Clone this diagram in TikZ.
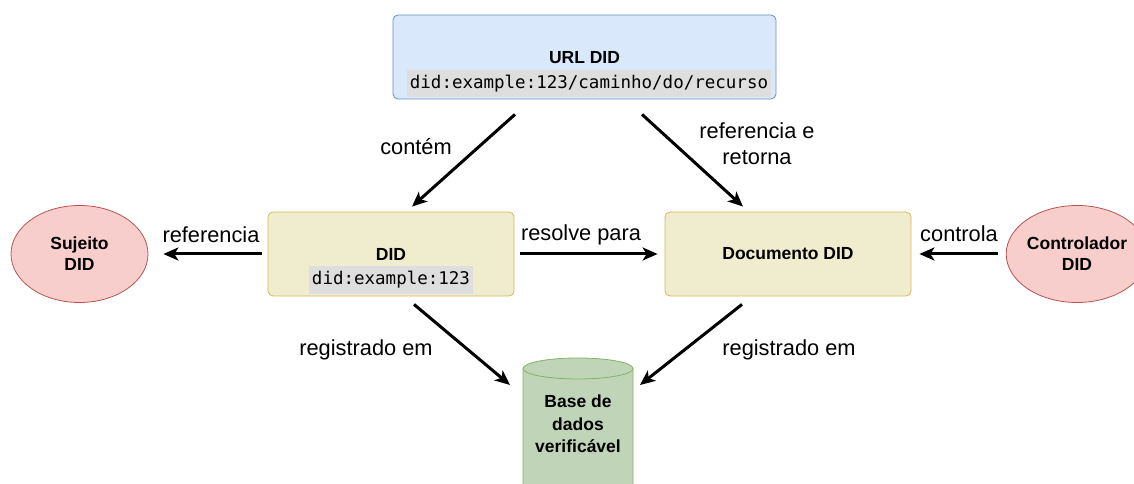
\documentclass[tikz,border=0pt]{standalone}
\usepackage{fontspec}
\setmainfont{Liberation Sans}
\newfontfamily\codefont{DejaVu Sans Mono}
\usetikzlibrary{arrows.meta,shapes.geometric,positioning,calc}
\definecolor{urlfill}{HTML}{DAE8FC}
\definecolor{urldraw}{HTML}{6C8EBF}
\definecolor{didfill}{HTML}{EFEDCD}
\definecolor{diddraw}{HTML}{D6B656}
\definecolor{subjfill}{HTML}{F8CECC}
\definecolor{subjdraw}{HTML}{B85450}
\definecolor{dbfill}{HTML}{C0D5B8}
\definecolor{dbdraw}{HTML}{82B366}
\definecolor{codefill}{HTML}{DEDEDE}

\begin{document}
\begin{tikzpicture}[
  x=1pt, y=1pt,
  box options/.style = {rounded corners=5pt,line width=0.8pt,minimum height=84pt},
  title options/.style = {font=\bfseries\fontsize{17.5}{21}\selectfont,align=center},
  code options/.style = {fill=codefill,inner xsep=3pt,inner ysep=0pt,minimum height=27pt,
    font=\codefont\fontsize{17.5}{21}\selectfont},
  entity options/.style = {ellipse,draw=subjdraw,fill=subjfill,line width=0.8pt,
    minimum width=137pt,minimum height=97pt,inner sep=0pt,title options},
  label options/.style = {font=\fontsize{21.8}{26}\selectfont,align=center},
  arrow options/.style = {line width=3pt,-{Stealth[length=15pt,width=13pt,inset=4pt]}},
  ]
  \useasboundingbox (0,0) rectangle (1134,484);

  % boxes
  \node[box options,draw=urldraw,fill=urlfill,minimum width=383pt] (url) at (584.5,427) {};
  \node[title options] (url title) at (584.5,426) {URL DID};
  \node[code options,minimum width=364pt] (url code) at (589,400.5) {did:example:123/caminho/do/recurso};
  \node[box options,draw=diddraw,fill=didfill,minimum width=246pt] (did) at (391,230) {};
  \node[title options] (did title) at (391,230) {DID};
  \node[code options,minimum height=28pt] (did code) at (391,204) {did:example:123};
  \node[box options,draw=diddraw,fill=didfill,minimum width=246pt,title options] (doc) at (788,230) {Documento DID};
  \node[entity options] (subject) at (79.5,230) {Sujeito\\DID};
  \node[entity options] (controller) at (1077,230) {Controlador\\DID};

  % cylinder
  \filldraw[draw=dbdraw,fill=dbfill,line width=0.8pt] (523,115.5) -- (523,-5)
    arc[start angle=180,end angle=360,x radius=55,y radius=10.5] -- (633,115.5)
    arc[start angle=0,end angle=180,x radius=55,y radius=10.5] -- cycle;
  \draw[draw=dbdraw,line width=0.8pt] (633,115.5)
    arc[start angle=0,end angle=-180,x radius=55,y radius=10.5];
  \node[title options,font=\bfseries\fontsize{17.5}{22.5}\selectfont] (db) at (578,60) {Base de\\dados\\verificável};

  % free ends of the slanted connectors
  \coordinate[below left=15pt and 69.5pt of url.south] (url out a);
  \coordinate[below right=15pt and 57.5pt of url.south] (url out b);
  \coordinate[above right=5pt and 21pt of did.north] (did in);
  \coordinate[above left=5pt and 45pt of doc.north] (doc in);
  \coordinate[below right=8pt and 23pt of did.south] (did out);
  \coordinate[below left=8pt and 46pt of doc.south] (doc out);
  \coordinate[above left=39pt and 68pt of db.center] (db in a);
  \coordinate[above right=39pt and 62pt of db.center] (db in b);

  % connectors
  \draw[arrow options] (url out a) -- (did in);
  \draw[arrow options] (url out b) -- (doc in);
  \draw[arrow options,shorten <=6pt,shorten >=15pt] (did.west) -- (subject.east);
  \draw[arrow options,shorten <=6pt,shorten >=7pt] (did.east) -- (doc.west);
  \draw[arrow options,shorten <=7.5pt,shorten >=8pt] (controller.west) -- (doc.east);
  \draw[arrow options] (did out) -- (db in a);
  \draw[arrow options] (doc out) -- (db in b);

  % labels
  \foreach \pos/\name/\txt in {(416,337)/contains/contém,(757,340)/returns/referencia e\\retorna,
    (211,249)/refers/referencia,(581,249)/resolves/resolve para,(959,250)/controls/controla,
    (366,134)/reg a/registrado em,(789,134)/reg b/registrado em} {
    \node[label options] (\name) at \pos {\txt};
  }
\end{tikzpicture}
\end{document}
